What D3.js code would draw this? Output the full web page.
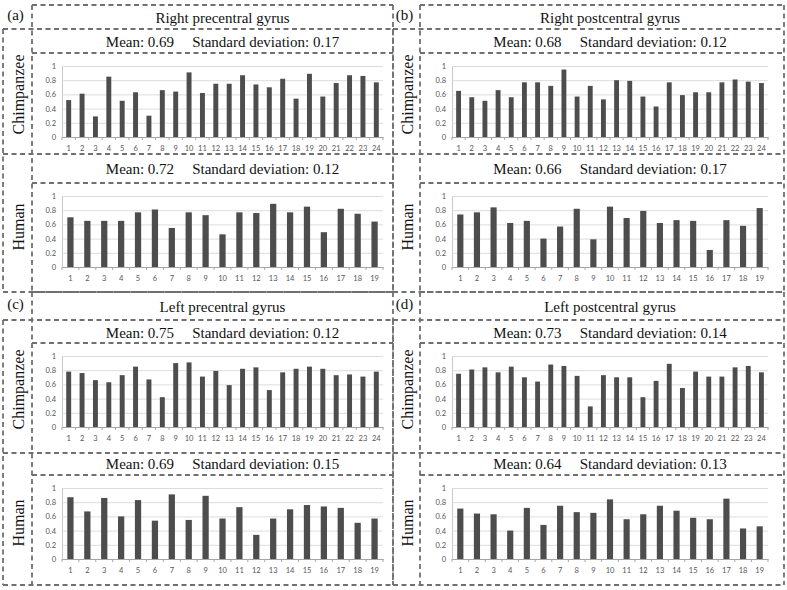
<!DOCTYPE html>
<html>
<head>
<meta charset="utf-8">
<script src="https://cdn.jsdelivr.net/npm/d3@7/dist/d3.min.js"></script>
<style>
  body { margin: 0; background: #fff; }
</style>
</head>
<body>
<div id="js-chart"></div>
<script>
// category labels (subject numbers)
const chimpIds = [1, 2, 3, 4, 5, 6, 7, 8, 9, 10, 11, 12, 13, 14, 15, 16, 17, 18, 19, 20, 21, 22, 23, 24];
const humanIds = [1, 2, 3, 4, 5, 6, 7, 8, 9, 10, 11, 12, 13, 14, 15, 16, 17, 18, 19];
const yTicks = [0, 0.2, 0.4, 0.6, 0.8, 1];

// values
const rightPreChimp = [0.52, 0.61, 0.29, 0.85, 0.51, 0.63, 0.30, 0.66, 0.64, 0.91, 0.62, 0.75, 0.75, 0.87, 0.74, 0.70, 0.82, 0.54, 0.89, 0.57, 0.76, 0.87, 0.86, 0.77];
const rightPreHuman = [0.70, 0.65, 0.65, 0.65, 0.77, 0.81, 0.55, 0.77, 0.73, 0.46, 0.77, 0.76, 0.89, 0.77, 0.85, 0.49, 0.82, 0.75, 0.64];
const rightPostChimp = [0.65, 0.56, 0.51, 0.66, 0.56, 0.77, 0.77, 0.72, 0.95, 0.57, 0.72, 0.53, 0.80, 0.79, 0.57, 0.43, 0.77, 0.59, 0.63, 0.63, 0.77, 0.81, 0.78, 0.76];
const rightPostHuman = [0.74, 0.77, 0.84, 0.62, 0.65, 0.40, 0.57, 0.82, 0.39, 0.85, 0.69, 0.79, 0.62, 0.66, 0.65, 0.24, 0.66, 0.58, 0.83];
const leftPreChimp = [0.78, 0.76, 0.66, 0.63, 0.73, 0.85, 0.67, 0.42, 0.90, 0.91, 0.71, 0.79, 0.59, 0.82, 0.84, 0.52, 0.77, 0.82, 0.85, 0.82, 0.73, 0.74, 0.71, 0.78];
const leftPreHuman = [0.87, 0.67, 0.86, 0.60, 0.83, 0.54, 0.91, 0.55, 0.89, 0.57, 0.73, 0.34, 0.57, 0.70, 0.76, 0.74, 0.72, 0.51, 0.57];
const leftPostChimp = [0.75, 0.81, 0.84, 0.77, 0.85, 0.70, 0.64, 0.88, 0.86, 0.72, 0.29, 0.73, 0.70, 0.70, 0.42, 0.65, 0.89, 0.55, 0.78, 0.71, 0.71, 0.84, 0.86, 0.77];
const leftPostHuman = [0.71, 0.64, 0.63, 0.40, 0.72, 0.48, 0.75, 0.66, 0.65, 0.84, 0.56, 0.63, 0.75, 0.68, 0.58, 0.56, 0.85, 0.43, 0.46];

const panelTags = ['(a)', '(b)', '(c)', '(d)'];
const panelTitles = ['Right precentral gyrus', 'Right postcentral gyrus', 'Left precentral gyrus', 'Left postcentral gyrus'];
const chimpMeans = ['0.69', '0.68', '0.75', '0.73'];
const chimpSds = ['0.17', '0.12', '0.12', '0.14'];
const humanMeans = ['0.72', '0.66', '0.69', '0.64'];
const humanSds = ['0.12', '0.17', '0.15', '0.13'];

const panels = [
  { chimp: rightPreChimp, human: rightPreHuman },
  { chimp: rightPostChimp, human: rightPostHuman },
  { chimp: leftPreChimp, human: leftPreHuman },
  { chimp: leftPostChimp, human: leftPostHuman }
];

const width = 787;
const height = 590;
const serif = '"Liberation Serif", "Times New Roman", serif';
const sans = 'Lato, "Liberation Sans", sans-serif';

// layout: label column x0..x1, content x1..x2
const cols = [
  { x0: 3, x1: 32, x2: 393, plotL: 62, plotR: 383 },
  { x0: 393, x1: 420, x2: 784, plotL: 452, plotR: 768 }
];
const rows = [
  { t: 5, r1: 29, r2: 53, r3: 154, r4: 183, b: 292 },
  { t: 292, r1: 320, r2: 343, r3: 453, r4: 475, b: 585 }
];

const svg = d3
  .select('#js-chart')
  .append('svg')
  .attr('width', width)
  .attr('height', height);

function dashed(x1, y1, x2, y2) {
  svg
    .append('line')
    .attr('x1', x1)
    .attr('y1', y1)
    .attr('x2', x2)
    .attr('y2', y2)
    .attr('stroke', '#707070')
    .attr('stroke-width', 1.8)
    .attr('stroke-dasharray', '5,3.5');
}

function serifText(x, y, str, size) {
  return svg
    .append('text')
    .attr('x', x)
    .attr('y', y)
    .attr('dy', '0.35em')
    .attr('text-anchor', 'middle')
    .attr('font-family', serif)
    .attr('font-size', size)
    .attr('fill', '#111')
    .text(str);
}

function statsText(x, y, mean, sd) {
  const t = svg
    .append('text')
    .attr('x', x)
    .attr('y', y)
    .attr('dy', '0.35em')
    .attr('text-anchor', 'middle')
    .attr('font-family', serif)
    .attr('font-size', 15)
    .attr('fill', '#111');
  t.append('tspan').text('Mean: ' + mean);
  t.append('tspan').attr('dx', 18).text('Standard deviation: ' + sd);
}

function rowLabel(x, y, str) {
  svg
    .append('text')
    .attr('transform', 'translate(' + x + ',' + y + ') rotate(-90)')
    .attr('dy', '0.35em')
    .attr('text-anchor', 'middle')
    .attr('font-family', serif)
    .attr('font-size', 16)
    .attr('fill', '#111')
    .text(str);
}

function barChart(vals, ids, c, top) {
  const y = d3.scaleLinear().domain([0, 1]).range([top + 84, top + 13]);
  const x = d3
    .scaleBand()
    .domain(ids)
    .range([c.plotL, c.plotR])
    .paddingInner(0.63)
    .paddingOuter(0.315);
  const g = svg.append('g');

  // gridlines + y labels
  const yAxis = g
    .append('g')
    .attr('transform', 'translate(' + c.plotL + ',0)')
    .call(
      d3
        .axisLeft(y)
        .tickValues(yTicks)
        .tickSize(-(c.plotR - c.plotL))
        .tickPadding(6)
        .tickFormat(d3.format(''))
    );
  yAxis.select('.domain').attr('stroke', '#c8c8c8');
  yAxis.selectAll('.tick line').attr('stroke', '#dcdcdc');
  yAxis
    .selectAll('.tick text')
    .attr('font-family', sans)
    .attr('font-size', 7.5)
    .attr('fill', '#555');

  // category axis
  const xAxis = g
    .append('g')
    .attr('transform', 'translate(0,' + y(0) + ')')
    .call(d3.axisBottom(x).tickSize(0).tickPadding(9));
  xAxis.select('.domain').attr('stroke', '#a6a6a6');
  xAxis
    .selectAll('.tick text')
    .attr('font-family', sans)
    .attr('font-size', 7.5)
    .attr('fill', '#555');

  // tick marks between categories
  g.selectAll('.cat-tick')
    .data(d3.range(ids.length + 1))
    .enter()
    .append('line')
    .attr('class', 'cat-tick')
    .attr('x1', d => c.plotL + d * x.step())
    .attr('x2', d => c.plotL + d * x.step())
    .attr('y1', y(0))
    .attr('y2', y(0) + 3)
    .attr('stroke', '#a6a6a6');

  g.selectAll('.bar')
    .data(vals)
    .enter()
    .append('rect')
    .attr('class', 'bar')
    .attr('x', (d, i) => x(ids[i]))
    .attr('width', x.bandwidth())
    .attr('y', d => y(d))
    .attr('height', d => y(0) - y(d))
    .attr('fill', '#4d4d4d');
}

panels.forEach(function(p, i) {
  const c = cols[i % 2];
  const r = rows[Math.floor(i / 2)];
  const cx = (c.plotL + c.plotR) / 2;

  // dashed frame
  [
    [c.x1, r.t, c.x2, r.t],
    [c.x0, r.r1, c.x2, r.r1],
    [c.x1, r.r2, c.x2, r.r2],
    [c.x0, r.r3, c.x2, r.r3],
    [c.x1, r.r4, c.x2, r.r4],
    [c.x0, r.b, c.x2, r.b],
    [c.x0, r.r1, c.x0, r.b],
    [c.x1, r.t, c.x1, r.b],
    [c.x2, r.t, c.x2, r.b]
  ].forEach(s => dashed(s[0], s[1], s[2], s[3]));

  serifText((c.x0 + c.x1) / 2 - 2, (r.t + r.r1) / 2 - 2, panelTags[i], 15);
  serifText(cx, (r.t + r.r1) / 2 + 1, panelTitles[i], 15);

  statsText(cx, (r.r1 + r.r2) / 2 + 1, chimpMeans[i], chimpSds[i]);
  rowLabel((c.x0 + c.x1) / 2 + 1, (r.r1 + r.r3) / 2 + 3, 'Chimpanzee');
  barChart(p.chimp, chimpIds, c, r.r2);

  statsText(cx, (r.r3 + r.r4) / 2, humanMeans[i], humanSds[i]);
  rowLabel((c.x0 + c.x1) / 2 + 1, (r.r3 + r.b) / 2 + 4, 'Human');
  barChart(p.human, humanIds, c, r.r4);
});
</script>
</body>
</html>
